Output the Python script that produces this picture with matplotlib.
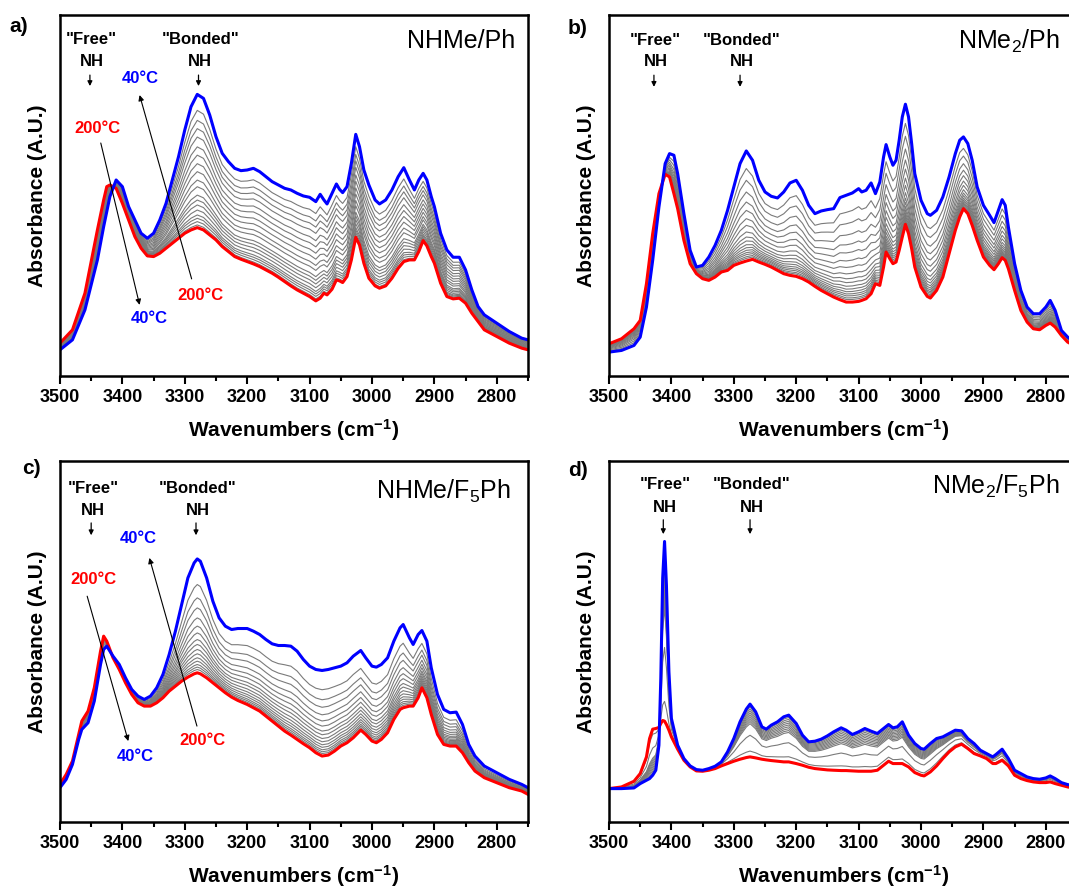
import numpy as np
import matplotlib
matplotlib.use('Agg')
import matplotlib.pyplot as plt

plt.rcParams['font.family'] = ['Liberation Sans', 'DejaVu Sans']
plt.rcParams['mathtext.default'] = 'regular'

# ---- panel a: NHMe/Ph ----
wn_a = [3500, 3480, 3460, 3440, 3430, 3425, 3420, 3410, 3400, 3390, 3380, 3370, 3360, 3350, 3340,
        3330, 3320, 3310, 3300, 3290, 3280, 3270, 3260, 3250, 3240, 3230, 3220, 3210, 3200, 3190,
        3180, 3170, 3160, 3150, 3140, 3130, 3120, 3110, 3100, 3090, 3083, 3077, 3072, 3064, 3057,
        3052, 3047, 3040, 3033, 3026, 3020, 3013, 3005, 2995, 2988, 2978, 2968, 2958, 2949, 2940,
        2932, 2925, 2918, 2912, 2905, 2900, 2890, 2880, 2870, 2860, 2850, 2840, 2830, 2820, 2800,
        2780, 2760, 2750]
blue_a = [8.0, 11.0, 20.0, 35.0, 45.0, 49.5, 54.0, 59.0, 57.0, 51.0, 47.0, 43.0, 41.5, 43.0, 47.0,
          52.0, 59.0, 66.0, 74.0, 81.0, 84.7, 83.5, 78.5, 72.0, 67.0, 64.5, 62.5, 61.8, 62.0, 62.5,
          61.5, 60.0, 58.5, 57.5, 56.5, 56.0, 55.0, 54.2, 53.8, 52.5, 54.7, 53.0, 51.8, 55.0, 57.8,
          56.2, 55.2, 57.0, 64.0, 72.7, 69.0, 62.0, 57.5, 53.0, 51.8, 53.0, 56.0, 60.0, 62.7, 59.0,
          56.0, 59.0, 61.0, 59.0, 54.0, 51.0, 43.0, 38.0, 35.8, 35.8, 32.0, 26.0, 21.0, 18.5, 16.0,
          13.5, 11.5, 11.0]
red_a = [10.0, 14.0, 25.0, 44.0, 53.0, 57.0, 57.5, 56.5, 52.0, 47.0, 42.0, 38.5, 36.2, 36.0, 37.0,
         38.5, 40.0, 41.5, 43.0, 44.0, 44.7, 44.0, 42.5, 41.0, 39.0, 37.5, 36.0, 35.2, 34.5, 33.8,
         33.0, 32.0, 31.0, 29.8, 28.5, 27.2, 26.0, 25.0, 24.0, 22.7, 23.5, 25.0, 24.5, 26.2, 29.0,
         28.7, 28.2, 30.0, 35.0, 41.8, 39.5, 34.0, 29.5, 27.2, 26.5, 27.2, 29.5, 32.5, 34.5, 35.0,
         35.0, 37.5, 40.8, 39.2, 36.0, 34.0, 28.0, 24.0, 23.3, 23.5, 22.0, 19.0, 16.5, 14.0, 12.0,
         10.0, 8.5, 8.0]
# relative position of each intermediate-temperature trace (0 = 200°C, 1 = 40°C)
gray_a = [0.88, 0.805, 0.743, 0.68, 0.606, 0.544, 0.48, 0.42, 0.357, 0.307, 0.244, 0.207, 0.17,
          0.132, 0.095, 0.07, 0.045, 0.02]

# ---- panel b: NMe2/Ph ----
wn_b = [3500, 3480, 3460, 3450, 3440, 3430, 3420, 3410, 3403, 3396, 3390, 3380, 3370, 3360, 3350,
        3340, 3330, 3320, 3310, 3300, 3290, 3280, 3270, 3260, 3250, 3240, 3230, 3220, 3210, 3200,
        3190, 3180, 3170, 3160, 3150, 3140, 3130, 3120, 3110, 3100, 3095, 3088, 3080, 3073, 3066,
        3060, 3056, 3050, 3045, 3040, 3035, 3030, 3025, 3020, 3015, 3010, 3000, 2990, 2985, 2975,
        2965, 2955, 2945, 2938, 2932, 2925, 2918, 2910, 2900, 2890, 2883, 2876, 2870, 2865, 2860,
        2850, 2840, 2830, 2820, 2810, 2800, 2793, 2785, 2775, 2765, 2750]
blue_b = [7.3, 7.8, 9.3, 11.8, 20.8, 34.8, 50.8, 63.8, 66.8, 66.3, 60.8, 48.8, 37.8, 32.8, 33.3,
          35.8, 39.3, 43.8, 49.8, 56.8, 63.8, 67.6, 64.8, 58.8, 55.3, 54.0, 53.5, 55.3, 58.0, 58.8,
          55.8, 51.3, 48.8, 49.6, 50.0, 50.3, 53.6, 54.3, 55.0, 56.3, 55.3, 55.8, 58.0, 54.8, 58.3,
          65.8, 69.5, 65.8, 63.3, 64.8, 70.8, 77.8, 81.6, 77.8, 69.8, 60.8, 52.8, 48.8, 48.3, 49.8,
          53.8, 59.8, 66.8, 70.8, 71.8, 69.8, 64.8, 56.8, 51.3, 48.3, 46.1, 49.8, 53.0, 51.3, 44.8,
          33.8, 25.8, 20.8, 18.8, 18.8, 20.8, 22.8, 19.8, 13.8, 11.8, 9.8]
red_b = [9.8, 11.3, 14.3, 16.8, 27.8, 42.8, 54.8, 60.6, 59.8, 54.8, 50.3, 40.8, 33.8, 30.8, 29.3,
         28.8, 29.8, 31.3, 31.8, 33.3, 34.0, 34.6, 35.1, 34.3, 33.6, 32.8, 31.8, 30.8, 30.3, 30.0,
         29.3, 28.3, 27.0, 25.8, 24.8, 23.8, 23.0, 22.3, 22.3, 22.5, 22.8, 23.3, 24.8, 27.8, 27.3,
         32.8, 37.3, 35.3, 33.8, 34.3, 37.8, 41.8, 45.6, 42.8, 38.3, 32.8, 26.8, 24.0, 23.5, 25.8,
         29.8, 36.8, 43.8, 47.8, 50.3, 48.8, 45.3, 40.8, 35.8, 33.3, 32.0, 33.8, 35.6, 34.8, 32.3,
         25.8, 19.8, 16.3, 14.3, 14.0, 15.3, 16.0, 14.8, 12.3, 10.3, 8.8]
gray_b = [0.84, 0.733, 0.627, 0.536, 0.46, 0.385, 0.324, 0.264, 0.218, 0.182, 0.148, 0.121, 0.097,
          0.076, 0.058, 0.039, 0.024]

# ---- panel c: NHMe/F5Ph ----
wn_c = [3500, 3490, 3480, 3470, 3465, 3455, 3445, 3435, 3430, 3425, 3415, 3405, 3395, 3385, 3375,
        3365, 3355, 3345, 3335, 3325, 3315, 3305, 3295, 3285, 3280, 3275, 3265, 3255, 3245, 3235,
        3225, 3215, 3200, 3190, 3180, 3170, 3160, 3150, 3140, 3130, 3120, 3110, 3100, 3090, 3080,
        3070, 3060, 3050, 3040, 3030, 3018, 3010, 3000, 2993, 2985, 2975, 2965, 2955, 2950, 2940,
        2934, 2926, 2920, 2912, 2905, 2895, 2885, 2875, 2865, 2855, 2845, 2835, 2820, 2800, 2780,
        2760, 2750]
blue_c = [10.3, 12.8, 17.3, 24.8, 27.8, 29.8, 36.3, 47.3, 51.8, 52.8, 49.8, 47.3, 43.3, 39.8, 37.8,
          36.8, 37.8, 40.3, 44.3, 50.3, 57.3, 65.3, 73.3, 77.8, 79.0, 78.3, 73.3, 66.3, 61.3, 58.8,
          57.8, 58.1, 58.1, 57.3, 56.3, 54.8, 53.5, 53.0, 53.0, 52.8, 51.3, 48.8, 46.8, 45.8, 45.5,
          45.8, 46.3, 46.8, 47.8, 49.8, 51.5, 49.3, 46.8, 46.5, 47.3, 49.3, 54.3, 58.3, 59.3, 55.3,
          53.3, 56.3, 57.5, 54.3, 46.3, 38.3, 33.8, 32.8, 33.0, 29.3, 23.3, 19.8, 16.8, 14.8, 12.8,
          11.3, 10.3]
red_c = [11.3, 14.3, 18.3, 26.3, 30.3, 33.3, 40.3, 51.3, 55.8, 54.3, 49.3, 45.8, 41.8, 38.3, 35.8,
         34.8, 34.8, 35.8, 37.3, 39.3, 40.8, 42.3, 43.5, 44.5, 44.8, 44.5, 43.3, 41.8, 40.3, 38.8,
         37.5, 36.5, 35.3, 34.3, 33.3, 31.8, 30.3, 28.8, 27.3, 26.1, 24.8, 23.5, 22.3, 20.8, 19.8,
         20.1, 21.3, 22.8, 23.8, 25.3, 27.6, 26.3, 24.3, 23.8, 24.8, 26.8, 30.8, 33.8, 34.3, 34.8,
         34.8, 37.3, 40.3, 37.3, 32.3, 26.3, 23.3, 22.8, 22.8, 20.8, 17.8, 15.3, 13.3, 11.8, 10.3,
         9.3, 8.3]
gray_c = [0.775, 0.658, 0.57, 0.482, 0.41, 0.35, 0.292, 0.249, 0.205, 0.167, 0.132, 0.102, 0.073,
          0.05, 0.029]

# ---- panel d: NMe2/F5Ph ----
wn_d = [3500, 3480, 3460, 3450, 3440, 3435, 3430, 3425, 3420, 3417, 3414, 3411, 3408, 3404, 3400,
        3390, 3380, 3370, 3360, 3350, 3340, 3330, 3320, 3310, 3300, 3290, 3280, 3274, 3265, 3255,
        3248, 3240, 3230, 3220, 3212, 3200, 3190, 3180, 3170, 3160, 3150, 3140, 3128, 3120, 3110,
        3100, 3090, 3080, 3070, 3060, 3052, 3045, 3038, 3030, 3020, 3010, 3000, 2995, 2985, 2975,
        2965, 2955, 2945, 2935, 2925, 2915, 2905, 2895, 2885, 2880, 2870, 2860, 2850, 2840, 2830,
        2820, 2810, 2800, 2793, 2785, 2775, 2765, 2750]
blue_d = [10.0, 10.0, 10.2, 11.5, 12.5, 13.0, 14.0, 15.5, 23.0, 43.0, 73.0, 84.0, 71.0, 45.0, 31.0,
          23.0, 19.0, 16.8, 15.7, 15.5, 16.0, 16.7, 18.0, 21.0, 25.0, 30.0, 33.8, 35.3, 33.0, 28.5,
          27.8, 29.0, 30.0, 31.5, 32.0, 29.5, 26.0, 24.0, 24.2, 24.8, 25.8, 27.0, 28.2, 27.5, 26.2,
          27.0, 28.0, 27.2, 26.5, 28.0, 29.2, 28.2, 28.5, 30.0, 26.0, 23.5, 22.0, 21.8, 23.5, 25.0,
          25.5, 26.5, 27.5, 27.3, 25.0, 23.5, 21.5, 20.5, 19.5, 20.2, 21.8, 19.0, 15.5, 14.5, 13.5,
          13.0, 12.8, 13.2, 13.8, 13.0, 11.8, 11.2, 10.8]
red_d = [10.0, 10.5, 12.2, 14.5, 19.5, 25.0, 27.8, 28.0, 28.3, 29.5, 30.4, 30.2, 29.2, 27.5, 25.5,
         21.8, 18.5, 16.5, 15.3, 15.2, 15.5, 16.0, 16.8, 17.5, 18.2, 18.8, 19.3, 19.5, 19.2, 18.8,
         18.6, 18.4, 18.2, 18.0, 18.0, 17.5, 17.0, 16.4, 16.0, 15.8, 15.6, 15.5, 15.4, 15.4, 15.3,
         15.2, 15.2, 15.2, 15.5, 17.0, 18.2, 17.5, 17.5, 17.5, 16.5, 14.8, 14.0, 13.8, 15.0, 16.8,
         19.0, 21.0, 22.5, 23.3, 22.0, 20.5, 19.8, 19.0, 17.5, 17.5, 18.5, 16.8, 14.0, 13.0, 12.4,
         12.0, 11.8, 11.8, 12.0, 11.5, 11.0, 10.5, 10.0]
gray_d = [0.95, 0.91, 0.87, 0.83, 0.79, 0.75, 0.71, 0.67, 0.63, 0.41, 0.11]

fig = plt.figure(figsize=(10.69, 8.90), dpi=100)


def draw_panel(rect, wn, blue, red, fracs, ytop, name, name_y):
    ax = fig.add_axes(rect)
    wn = np.array(wn)
    blue = np.array(blue)
    red = np.array(red)
    for f in fracs:
        ax.plot(wn, red + f * (blue - red), color='#7a7a7a', lw=0.8)
    ax.plot(wn, red, color='#ff0000', lw=2.2)
    ax.plot(wn, blue, color='#0000ff', lw=2.2)
    ax.set_xlim(3500, 2750)
    ax.set_ylim(0, ytop)
    ax.set_yticks([])
    ax.set_xticks(np.arange(3500, 2749, -100))
    ax.set_xticks(np.arange(3450, 2749, -100), minor=True)
    ax.tick_params(axis='x', which='major', direction='out', length=6, width=1.5,
                   labelsize=13, pad=3)
    ax.tick_params(axis='x', which='minor', direction='out', length=3.5, width=1.5)
    for lab in ax.get_xticklabels():
        lab.set_fontweight('bold')
    for s in ax.spines.values():
        s.set_linewidth(1.8)
    ax.set_xlabel('Wavenumbers (cm$^{-1}$)', fontsize=15, fontweight='bold', labelpad=8)
    ax.set_ylabel('Absorbance (A.U.)', fontsize=15, fontweight='bold')
    ax.yaxis.set_label_coords(-0.028, 0.5)
    ax.text(name_y[0], name_y[1], name, transform=ax.transAxes, ha='right', va='baseline',
            fontsize=18)
    return ax


def nh_labels(ax, x_free, x_bond, y1, y2, ya, yb):
    for x, word in [(x_free, '"Free"'), (x_bond, '"Bonded"')]:
        ax.text(x, y1, word, ha='center', va='center', fontsize=12, fontweight='bold')
        ax.text(x, y2, 'NH', ha='center', va='center', fontsize=12, fontweight='bold')
        ax.annotate('', xy=(x + 3, yb), xytext=(x + 3, ya),
                    arrowprops=dict(arrowstyle='-|>', color='k', lw=0.9, mutation_scale=7,
                                    shrinkA=0, shrinkB=0))


def temp_labels(ax, t40_top, t200_top, t200_low, t40_low, arr1, arr2):
    ax.text(*t40_top, '40°C', color='#0000ff', ha='center', va='center', fontsize=12,
            fontweight='bold')
    ax.text(*t200_top, '200°C', color='#ff0000', ha='center', va='center', fontsize=12,
            fontweight='bold')
    ax.text(*t200_low, '200°C', color='#ff0000', ha='center', va='center', fontsize=12,
            fontweight='bold')
    ax.text(*t40_low, '40°C', color='#0000ff', ha='center', va='center', fontsize=12,
            fontweight='bold')
    for start, end in (arr1, arr2):
        ax.annotate('', xy=end, xytext=start,
                    arrowprops=dict(arrowstyle='-|>', color='k', lw=0.8, mutation_scale=8,
                                    shrinkA=0, shrinkB=0))


W, H = 0.4378, 0.406
ax_a = draw_panel([0.0561, 0.577, W, H], wn_a, blue_a, red_a, gray_a, 108.5,
                  'NHMe/Ph', (0.972, 0.908))
ax_b = draw_panel([0.5697, 0.577, W, H], wn_b, blue_b, red_b, gray_b, 108.3,
                  'NMe$_2$/Ph', (0.962, 0.908))
ax_c = draw_panel([0.0561, 0.0764, W, H], wn_c, blue_c, red_c, gray_c, 108.5,
                  'NHMe/F$_5$Ph', (0.964, 0.895))
ax_d = draw_panel([0.5697, 0.0764, W, H], wn_d, blue_d, red_d, gray_d, 108.2,
                  'NMe$_2$/F$_5$Ph', (0.962, 0.908))

nh_labels(ax_a, 3449, 3275, 101.2, 94.7, 90.5, 87.2)
nh_labels(ax_b, 3425, 3287, 100.8, 94.3, 90.3, 86.8)
nh_labels(ax_c, 3447, 3279, 100.1, 93.6, 89.8, 86.1)
nh_labels(ax_d, 3410, 3271, 101.0, 94.3, 90.5, 86.2)

temp_labels(ax_a, (3372, 89.5), (3440, 74.6), (3275, 24.2), (3357, 17.3),
            ((3434.6, 70.1), (3372.4, 21.5)), ((3289, 29.3), (3372.4, 84.5)))
temp_labels(ax_c, (3374, 85.1), (3447, 72.8), (3272, 24.6), (3380, 19.8),
            ((3456.4, 67.8), (3390.5, 24.3)), ((3280.5, 28.8), (3356.7, 79.3)))

for lab, x, y in [('a)', 19, 26), ('b)', 578, 28), ('c)', 31, 468), ('d)', 578, 471)]:
    fig.text(x / 1069, 1 - y / 890, lab, ha='center', va='center', fontsize=15,
             fontweight='bold')

fig.savefig('out.png', dpi=100)
